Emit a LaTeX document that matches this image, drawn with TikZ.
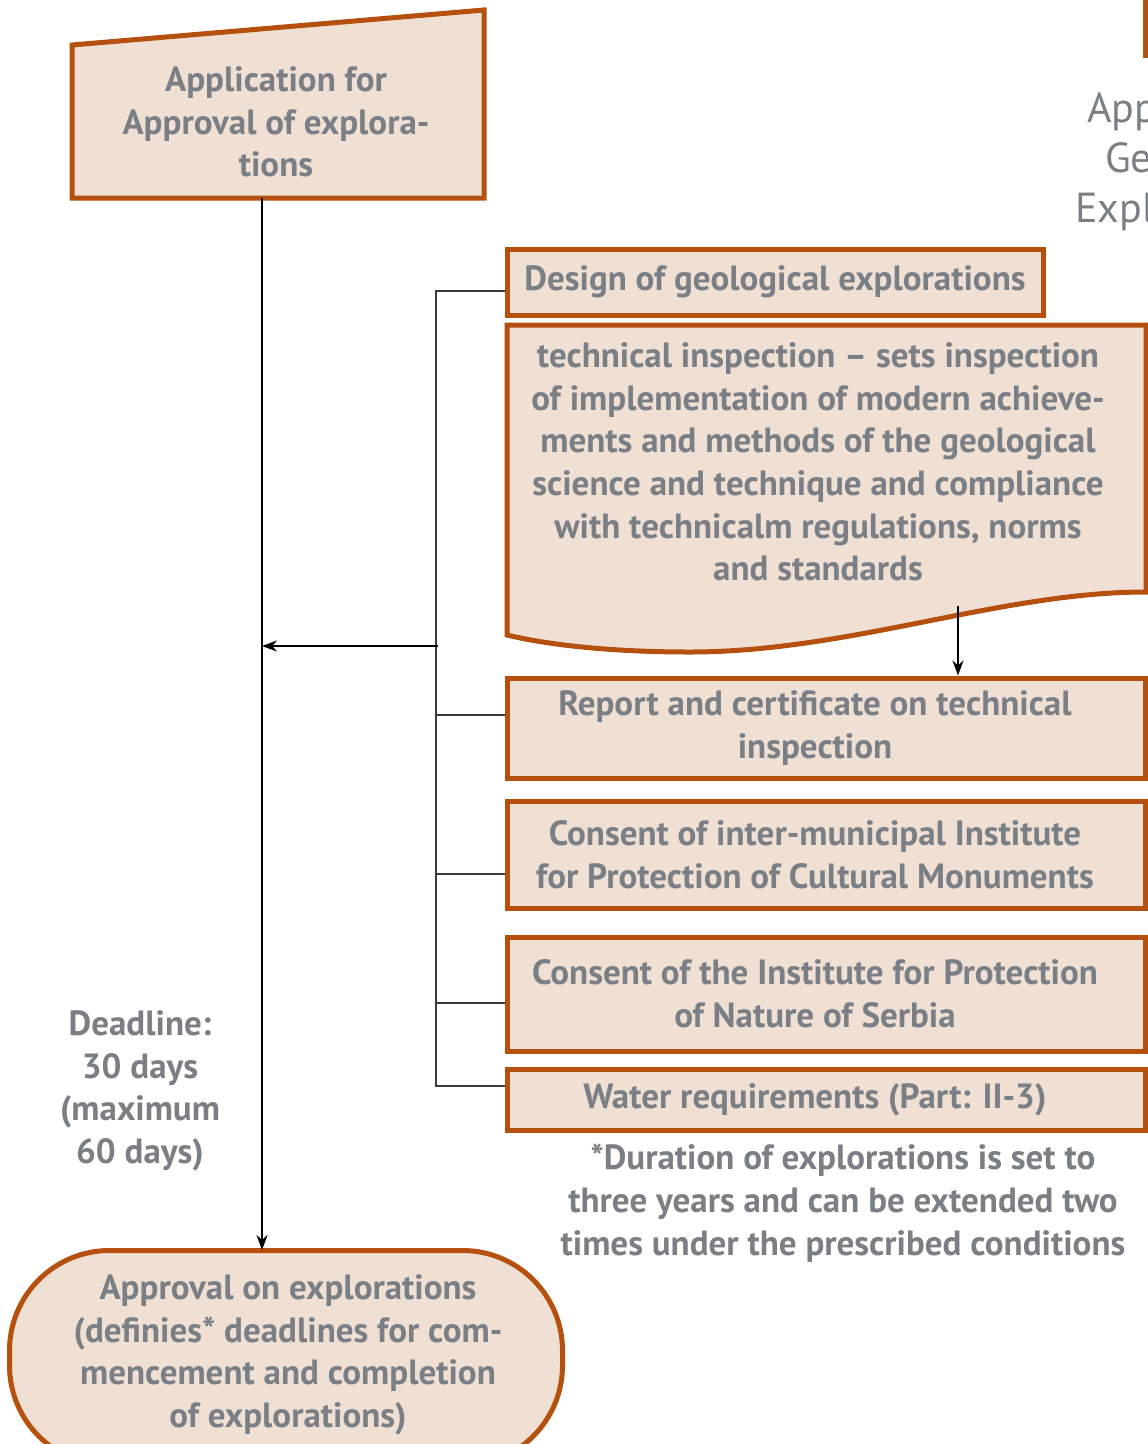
\documentclass[tikz,border=0pt]{standalone}
\usepackage{fontspec}
\setmainfont{PT Sans}
\usetikzlibrary{arrows.meta}
\definecolor{rust}{RGB}{181,80,14}
\definecolor{paper}{RGB}{240,223,211}
\definecolor{ink}{RGB}{121,127,133}
\definecolor{wire}{RGB}{60,58,60}
\begin{document}
\begin{tikzpicture}[x=1pt,y=-1pt,
  txt/.style={text=ink,font=\fontsize{35}{42.7}\selectfont\bfseries,align=center,inner sep=0pt},
  boxed/.style={txt,draw=rust,fill=paper,line width=5pt,rectangle},
  outline/.style={draw=rust,fill=paper,line width=5pt},
  wide/.style={boxed,minimum width=638},
  caption/.style={label={[txt,xshift=-11pt]center:#1}},
  trunk/.style={black,line width=2.2pt},
  branch/.style={wire,line width=2pt},
  tip/.style={-{Stealth[length=15pt,width=11pt]}}]
\useasboundingbox (0,0) rectangle (1148,1444);
\clip (0,0) rectangle (1148,1444);

% box cut off at the upper right edge
\draw[outline,fill=white] (1145,-10) rectangle (1400,55);
\begin{scope}[every node/.style={text=ink,font=\fontsize{42}{50}\selectfont,inner sep=0pt,anchor=base west}]
  \node (frA) at (1087,122) {App};
  \node (frB) at (1105,172) {Ge};
  \node (frC) at (1075,222) {Expl};
\end{scope}

% manual input: application
\draw[outline] (72,45) -- (484,10) -- (484,198) -- (72,198) -- cycle;
\node[txt] (app) at (276,122) {Application for\\Approval of explora-\\tions};

% document: technical inspection
\draw[outline] (507,325) -- (1146,325) -- (1146,592)
  .. controls (1000,592) and (850,652) .. (690,652)
  .. controls (600,652) and (540,643) .. (507,635) -- cycle;
\node[txt] (tech) at (818,462) {technical inspection – sets inspection\\of implementation of modern achieve-\\ments and methods of the geological\\science and technique and compliance\\with technicalm regulations, norms\\and standards};

% documents to be submitted
\node[boxed,minimum width=536,minimum height=66] (design) at (775,282) {Design of geological explorations};
\node[wide,minimum height=100,caption={Report and certificate on technical\\inspection}] (report) at (826,728) {};
\node[wide,minimum height=107,caption={Consent of inter-municipal Institute\\for Protection of Cultural Monuments}] (cultural) at (826,854.5) {};
\node[wide,minimum height=114,caption={Consent of the Institute for Protection\\of Nature of Serbia}] (nature) at (826,994) {};
\node[wide,minimum height=61,caption={Water requirements (Part: II-3)}] (water) at (826,1099.5) {};

% terminal: approval
\node[boxed,rounded corners=100pt,minimum width=553,minimum height=215] (approval) at (286,1358) {};
\node[txt] (approvalText) at (288,1355) {Approval on explorations\\(definies* deadlines for com-\\mencement and completion\\of explorations)};

% notes
\node[txt] (deadline) at (140,1091) {Deadline:\\30 days\\(maximum\\60 days)};
\node[txt] (note) at (843,1203) {*Duration of explorations is set to\\three years and can be extended two\\times under the prescribed conditions};

% main flow
\coordinate (trunkTop) at (262,198);
\coordinate (trunkBot) at (262,1250);
\draw[trunk,tip] (trunkTop) -- (trunkBot);

% bracket collecting the documents
\coordinate (b1) at (436,291);
\coordinate (b2) at (436,715);
\coordinate (b3) at (436,874);
\coordinate (b4) at (436,1003);
\coordinate (b5) at (436,1086);
\coordinate (bm) at (438,646);
\draw[branch] (b1 -| design.west) -- (b1) -- (b5) -- (b5 -| water.west);
\draw[branch] (b2) -- (b2 -| report.west);
\draw[branch] (b3) -- (b3 -| cultural.west);
\draw[branch] (b4) -- (b4 -| nature.west);
\draw[trunk,tip] (bm) -- (bm -| trunkTop);

% inspection leads to the report
\coordinate (techOut) at (958,606);
\draw[trunk,tip] (techOut) -- (techOut |- report.north);
\end{tikzpicture}
\end{document}
